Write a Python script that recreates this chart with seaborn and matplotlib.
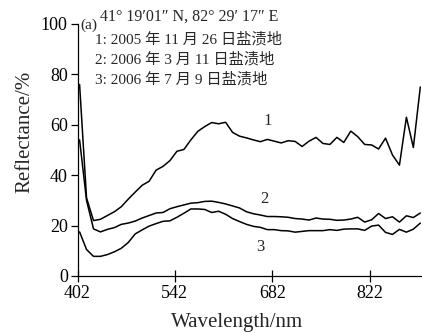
import numpy as np
import pandas as pd
import matplotlib
matplotlib.use("Agg")
import matplotlib.pyplot as plt
import seaborn as sns

# ---- data ----
wavelength = [405, 415, 425, 435, 445, 455, 465, 475, 485, 495,
              505, 515, 525, 535, 545, 555, 565, 575, 585, 595,
              605, 615, 625, 635, 645, 655, 665, 675, 685, 695,
              705, 715, 725, 735, 745, 755, 765, 775, 785, 795,
              805, 815, 825, 835, 845, 855, 865, 875, 885, 895]

series1 = [76, 31, 22, 22.5, 24, 25.5, 27.5, 30.5, 33.3, 36,
           37.6, 42, 43.5, 45.8, 49.5, 50.2, 54, 57.4, 59.3, 60.9,
           60.4, 61, 57, 55.5, 54.8, 54, 53.3, 54.2, 53.5, 52.8,
           53.7, 53.4, 51.4, 53.5, 55, 52.6, 52.2, 55, 53, 57.5,
           55.3, 52.2, 52, 50.4, 54.7, 48, 44, 63, 51, 75]

series2 = [54, 30, 18.7, 17.5, 18.5, 19.2, 20.5, 21, 21.8, 23,
           24, 25, 25.2, 26.7, 27.5, 28.2, 28.9, 29.1, 29.6, 29.7,
           29.2, 28.6, 27.8, 27, 25.5, 24.7, 24.2, 23.6, 23.6, 23.5,
           23.3, 22.8, 22.6, 22.2, 23, 22.6, 22.5, 22.1, 22.2, 22.6,
           23.3, 21.4, 22.3, 24.8, 22.8, 23.5, 21.4, 23.9, 23.2, 25]

series3 = [17.5, 10.5, 7.8, 7.8, 8.5, 9.6, 11, 13.3, 16.7, 18.3,
           19.8, 20.8, 21.7, 21.9, 23.3, 24.9, 26.6, 26.6, 26.4, 25.2,
           25.7, 24.5, 22.8, 21.6, 20.5, 19.7, 19.3, 18.4, 18.4, 18,
           17.9, 17.4, 17.7, 18, 18, 18, 18.4, 18.1, 18.6, 18.7,
           18.7, 18.1, 19.8, 20.2, 17.3, 16.5, 18.5, 17.4, 18.6, 21]

series_names = ["1", "2", "3"]
x_ticks = [402, 542, 682, 822]
y_ticks = [0, 20, 40, 60, 80, 100]

legend_lines = ["1: 2005 年 11 月 26 日盐渍地",
                "2: 2006 年 3 月 11 日盐渍地",
                "3: 2006 年 7 月 9 日盐渍地"]
coord_text = "41° 19′01″ N, 82° 29′ 17″ E"

# ---- build long table ----
df = pd.concat([
    pd.DataFrame({"wl": wavelength, "R": s, "series": name})
    for name, s in zip(series_names, [series1, series2, series3])
], ignore_index=True)

sns.set_style("ticks")
plt.rcParams["font.family"] = ["Liberation Serif", "Noto Sans CJK SC"]

fig = plt.figure(figsize=(4.22, 3.33), dpi=100)
ax = fig.add_axes([77.5 / 422, 1 - 276 / 333, 343.5 / 422, 252 / 333])

sns.lineplot(data=df, x="wl", y="R", hue="series", units="series",
             estimator=None, palette=["black"] * 3, legend=False,
             linewidth=1.1, ax=ax)

ax.set_xlim(402, 896)
ax.set_ylim(0, 100)
ax.set_xticks(x_ticks)
ax.set_yticks(y_ticks)
ax.set_xticklabels([str(t) for t in x_ticks])
ax.tick_params(axis="x", direction="inout", length=8, width=0.9,
               labelsize=13, pad=2.5, colors="black")
ax.tick_params(axis="y", direction="out", length=5, width=0.9,
               labelsize=13, pad=2, colors="black")
for s in ["top", "right"]:
    ax.spines[s].set_visible(False)
for s in ["left", "bottom"]:
    ax.spines[s].set_linewidth(0.9)
    ax.spines[s].set_color("black")

ax.set_xlabel("Wavelength/nm", fontsize=15)
ax.set_ylabel("Reflectance/%", fontsize=15)
ax.xaxis.label.set_va("center")
ax.yaxis.label.set_va("center")
ax.xaxis.set_label_coords((237 - 77.5) / 343.5, (276 - 322) / 252)
ax.yaxis.set_label_coords((25 - 77.5) / 343.5, (276 - 132) / 252)

# curve labels
label_pos = [(675, 61.6), (671, 30.6), (665, 11.4)]
for name, (lx, ly) in zip(series_names, label_pos):
    ax.text(lx, ly, name, fontsize=12, ha="center", va="center")

# annotation block
ax.text(0.007, 0.996, "(a)", transform=ax.transAxes, fontsize=11,
        ha="left", va="center")
ax.text(0.0655, 1.028, coord_text, transform=ax.transAxes, fontsize=11.5,
        ha="left", va="center", clip_on=False)
for txt, yy in zip(legend_lines, [0.940, 0.861, 0.782]):
    ax.text(0.051, yy, txt, transform=ax.transAxes, fontsize=11,
            ha="left", va="center")

fig.savefig("out.png", dpi=100)
